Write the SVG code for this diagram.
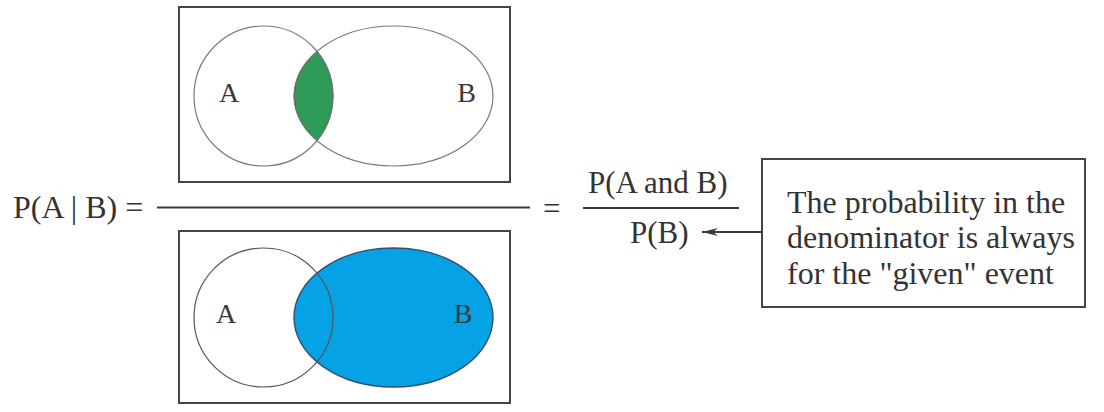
<svg xmlns="http://www.w3.org/2000/svg" width="1104" height="412" viewBox="0 0 1104 412">
  <style>
    .frame { fill: none; stroke: #454545; stroke-width: 2; }
    .set { fill: none; stroke: #7a7a7a; stroke-width: 1.2; }
    .lbl { font-family: "Liberation Serif", "Times New Roman", serif; font-size: 28px; fill: #3a3a3a; }
    .txt { font-family: "Liberation Serif", "Times New Roman", serif; font-size: 32px; fill: #333; }
    .frac { font-family: "Liberation Serif", "Times New Roman", serif; font-size: 31px; fill: #333; }
    .rule { stroke: #3a3a3a; stroke-width: 1.8; fill: none; }
  </style>
  <defs>
    <marker id="arrow" viewBox="0 0 16 8" refX="16" refY="4" markerWidth="16" markerHeight="8" markerUnits="userSpaceOnUse" orient="auto">
      <path d="M16,4 L0,0 L5,4 L0,8 Z" fill="#3a3a3a"/>
    </marker>
  </defs>
  <rect width="1104" height="412" fill="#ffffff"/>

  <g id="venn-top">
    <rect class="frame" x="179" y="7" width="331" height="175"/>
    <path d="M317,51.3 A69.5,70 0 0,1 317,140.7 A99.5,70 0 0,1 317,51.3 Z" fill="#2e9a57" stroke="#2f5a3a" stroke-width="1"/>
    <ellipse class="set" cx="263.5" cy="96" rx="69.5" ry="70"/>
    <ellipse class="set" cx="393.5" cy="96" rx="99.5" ry="70"/>
    <text class="lbl" x="229" y="102" text-anchor="middle">A</text>
    <text class="lbl" x="466.5" y="102" text-anchor="middle">B</text>
  </g>

  <g id="venn-bottom">
    <rect class="frame" x="179" y="231" width="331" height="172"/>
    <ellipse cx="393.5" cy="317.5" rx="99.5" ry="69.5" fill="#06a2e6" stroke="#34506a" stroke-width="1.4"/>
    <ellipse cx="263.5" cy="317.5" rx="69.5" ry="69.5" fill="none" stroke="#555" stroke-width="1.2"/>
    <text class="lbl" x="226" y="323" text-anchor="middle">A</text>
    <text class="lbl" x="463" y="323" text-anchor="middle">B</text>
  </g>

  <g id="lhs">
    <text class="txt" x="13" y="218">P(A | B) =</text>
    <line class="rule" x1="157" y1="207.5" x2="530" y2="207.5"/>
  </g>

  <g id="rhs">
    <text class="frac" x="543" y="219">=</text>
    <text class="frac" x="588" y="193">P(A and B)</text>
    <line class="rule" x1="583" y1="208" x2="739" y2="208"/>
    <text class="frac" x="630" y="243">P(B)</text>
  </g>

  <g id="note">
    <rect class="frame" x="762" y="159" width="323" height="148"/>
    <text class="txt" x="787" y="213">The probability in the</text>
    <text class="txt" x="787" y="248">denominator is always</text>
    <text class="txt" x="787" y="284">for the "given" event</text>
  </g>

  <g id="connectors">
    <line x1="761" y1="232" x2="702" y2="232" stroke="#3a3a3a" stroke-width="1.8" marker-end="url(#arrow)"/>
  </g>
</svg>
